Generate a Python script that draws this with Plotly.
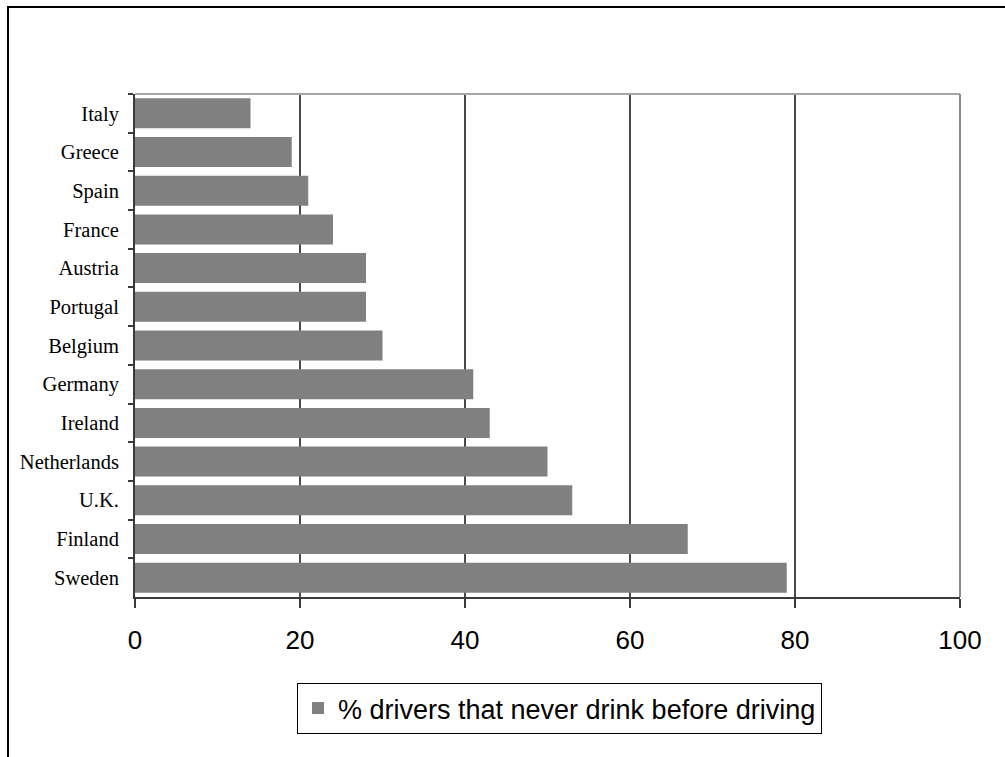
import plotly.graph_objects as go

# Share of drivers who never drink before driving, by country (top to bottom)
countries = ["Italy", "Greece", "Spain", "France", "Austria", "Portugal", "Belgium",
             "Germany", "Ireland", "Netherlands", "U.K.", "Finland", "Sweden"]
never_drink_pct = [14, 19, 21, 24, 28, 28, 30, 41, 43, 50, 53, 67, 79]
x_ticks = [0, 20, 40, 60, 80, 100]
series_name = "% drivers that never drink before driving"

W, H = 1005, 757
L, R, T, B = 135, 45, 94, 160
pw, ph = W - L - R, H - T - B


def px_x(p):
    return (p - L) / pw


def px_y(p):
    return (H - B - p) / ph


fig = go.Figure(go.Bar(
    x=never_drink_pct,
    y=countries,
    orientation="h",
    name=series_name,
    marker=dict(color="#808080", line=dict(width=0)),
    showlegend=True,
))

axis_dark = "#3a3a3a"

fig.update_layout(
    width=W, height=H,
    margin=dict(l=L, r=R, t=T, b=B),
    paper_bgcolor="white",
    plot_bgcolor="white",
    bargap=0.225,
    xaxis=dict(
        range=[0, 100],
        tickvals=x_ticks,
        ticktext=[str(v) for v in x_ticks],
        showgrid=True, gridcolor="#4a4a4a", gridwidth=1.5,
        showline=True, linecolor=axis_dark, linewidth=2,
        ticks="outside", ticklen=9, tickwidth=1.5, tickcolor=axis_dark,
        tickfont=dict(family="Liberation Sans, Arial, sans-serif", size=26, color="black"),
        ticklabelstandoff=10,
        zeroline=False,
        fixedrange=True,
    ),
    yaxis=dict(
        categoryorder="array", categoryarray=countries,
        autorange="reversed",
        showline=True, linecolor=axis_dark, linewidth=2,
        ticks="outside", ticklen=5, tickwidth=1.5, tickcolor=axis_dark,
        tickson="boundaries",
        showgrid=False,
        tickfont=dict(family="Liberation Serif, Times New Roman, serif", size=20.5, color="black"),
        ticklabelstandoff=10,
        fixedrange=True,
    ),
    legend=dict(
        x=px_x(297), y=px_y(683),
        xanchor="left", yanchor="top",
        bordercolor="black", borderwidth=1,
        bgcolor="white",
        font=dict(family="Liberation Sans, Arial, sans-serif", size=27, color="black"),
        itemwidth=30,
    ),
    shapes=[
        # light frame on the top and right of the plot area
        dict(type="line", xref="paper", yref="paper", x0=0, x1=1, y0=1, y1=1,
             line=dict(color="#a6a6a6", width=2)),
        dict(type="line", xref="paper", yref="paper", x0=1, x1=1, y0=0, y1=1,
             line=dict(color="#8a8a8a", width=2)),
        # outer chart border (left and top)
        dict(type="line", xref="paper", yref="paper", x0=px_x(8), x1=px_x(8),
             y0=px_y(7), y1=px_y(H + 5), line=dict(color="black", width=2)),
        dict(type="line", xref="paper", yref="paper", x0=px_x(7), x1=px_x(W + 5),
             y0=px_y(7), y1=px_y(7), line=dict(color="black", width=2)),
    ],
)

fig.write_html("out.html")
